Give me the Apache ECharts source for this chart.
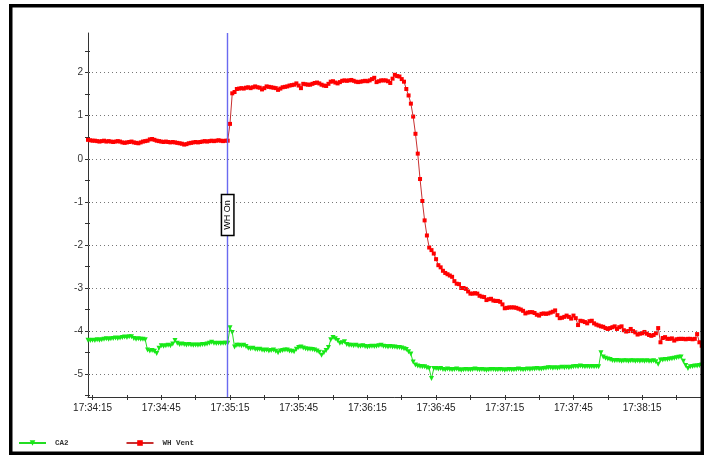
<!DOCTYPE html>
<html><head><meta charset="utf-8">
<script src="https://cdn.jsdelivr.net/npm/echarts@6/dist/echarts.min.js"></script>
<style>html,body{margin:0;padding:0;background:#fff}#c{width:705px;height:455px}</style>
</head><body><div id="c"></div><script>
// ---- data ----
const startTime = '17:34:13';   // first sample, one sample per second
const xLabels = ['17:34:15','17:34:45','17:35:15','17:35:45','17:36:15','17:36:45','17:37:15','17:37:45','17:38:15'];
const xTicks = ['17:34:15','17:34:30','17:34:45','17:35:00','17:35:15','17:35:30','17:35:45','17:36:00','17:36:15','17:36:30','17:36:45','17:37:00','17:37:15','17:37:30','17:37:45','17:38:00','17:38:15','17:38:30'];
const yLabels = [-5,-4,-3,-2,-1,0,1,2];
const yTicks = [-5.5,-5,-4.5,-4,-3.5,-3,-2.5,-2,-1.5,-1,-0.5,0,0.5,1,1.5,2,2.5];
const yMin = -5.53, yMax = 2.92;
const markerTime = '17:35:14';
const markerText = 'WH On';
const seriesNames = ['CA2','WH Vent'];

const ca2 = [
-4.21,-4.22,-4.21,-4.22,-4.20,-4.21,-4.20,-4.19,-4.18,-4.19,
-4.18,-4.17,-4.16,-4.17,-4.16,-4.15,-4.14,-4.15,-4.13,-4.13,
-4.17,-4.19,-4.18,-4.19,-4.19,-4.20,-4.44,-4.46,-4.45,-4.47,
-4.52,-4.40,-4.34,-4.35,-4.34,-4.33,-4.34,-4.30,-4.22,-4.28,
-4.31,-4.30,-4.31,-4.32,-4.31,-4.32,-4.33,-4.32,-4.33,-4.32,
-4.31,-4.31,-4.30,-4.28,-4.26,-4.28,-4.29,-4.28,-4.29,-4.28,
-4.28,-4.28,-3.92,-4.03,-4.37,-4.33,-4.33,-4.34,-4.33,-4.36,
-4.40,-4.41,-4.40,-4.42,-4.43,-4.42,-4.44,-4.45,-4.44,-4.46,
-4.45,-4.44,-4.47,-4.50,-4.46,-4.45,-4.44,-4.44,-4.46,-4.47,
-4.48,-4.42,-4.38,-4.37,-4.39,-4.41,-4.42,-4.42,-4.43,-4.44,
-4.46,-4.49,-4.56,-4.50,-4.45,-4.38,-4.20,-4.15,-4.18,-4.22,
-4.28,-4.27,-4.25,-4.31,-4.33,-4.33,-4.34,-4.33,-4.35,-4.35,
-4.34,-4.36,-4.37,-4.36,-4.35,-4.36,-4.35,-4.34,-4.33,-4.35,
-4.36,-4.37,-4.36,-4.37,-4.37,-4.38,-4.38,-4.39,-4.41,-4.43,
-4.48,-4.53,-4.72,-4.79,-4.81,-4.82,-4.83,-4.83,-4.85,-4.87,
-5.10,-4.87,-4.87,-4.88,-4.87,-4.89,-4.90,-4.88,-4.89,-4.90,
-4.89,-4.88,-4.90,-4.91,-4.90,-4.89,-4.90,-4.90,-4.89,-4.88,
-4.89,-4.90,-4.89,-4.90,-4.91,-4.90,-4.89,-4.89,-4.90,-4.90,
-4.89,-4.90,-4.91,-4.90,-4.89,-4.90,-4.90,-4.89,-4.88,-4.89,
-4.90,-4.89,-4.88,-4.89,-4.88,-4.88,-4.87,-4.88,-4.88,-4.87,
-4.86,-4.85,-4.85,-4.86,-4.85,-4.86,-4.85,-4.84,-4.85,-4.84,
-4.85,-4.84,-4.83,-4.82,-4.83,-4.81,-4.82,-4.83,-4.82,-4.83,
-4.82,-4.83,-4.82,-4.83,-4.50,-4.60,-4.63,-4.65,-4.66,-4.68,
-4.69,-4.68,-4.69,-4.70,-4.69,-4.69,-4.70,-4.69,-4.69,-4.70,
-4.69,-4.70,-4.69,-4.70,-4.69,-4.70,-4.70,-4.69,-4.71,-4.77,
-4.67,-4.67,-4.66,-4.66,-4.65,-4.64,-4.63,-4.62,-4.61,-4.60,
-4.70,-4.80,-4.87,-4.83,-4.82,-4.81,-4.81,-4.80,-4.79
];

const whVent = [
0.44,0.43,0.42,0.42,0.41,0.40,0.41,0.42,0.40,0.41,
0.40,0.39,0.40,0.41,0.40,0.38,0.37,0.38,0.39,0.40,
0.38,0.37,0.36,0.38,0.40,0.41,0.42,0.45,0.46,0.44,
0.42,0.41,0.40,0.39,0.40,0.39,0.38,0.39,0.38,0.37,
0.36,0.35,0.33,0.34,0.36,0.37,0.38,0.39,0.38,0.39,
0.40,0.41,0.40,0.41,0.42,0.41,0.42,0.43,0.42,0.41,
0.42,0.42,0.81,1.52,1.55,1.62,1.63,1.64,1.63,1.65,
1.66,1.64,1.66,1.68,1.66,1.65,1.61,1.64,1.68,1.67,
1.66,1.65,1.64,1.60,1.63,1.66,1.67,1.68,1.70,1.71,
1.72,1.75,1.70,1.64,1.74,1.73,1.72,1.72,1.74,1.76,
1.77,1.75,1.72,1.70,1.69,1.74,1.79,1.80,1.77,1.75,
1.78,1.81,1.82,1.81,1.82,1.83,1.81,1.79,1.78,1.79,
1.80,1.81,1.80,1.82,1.85,1.88,1.78,1.80,1.82,1.82,
1.82,1.80,1.76,1.86,1.95,1.92,1.91,1.85,1.79,1.62,
1.47,1.28,0.98,0.58,0.12,-0.47,-0.98,-1.43,-1.78,-2.06,
-2.12,-2.20,-2.33,-2.47,-2.52,-2.60,-2.65,-2.68,-2.71,-2.74,
-2.84,-2.90,-2.91,-3.00,-3.00,-3.02,-3.08,-3.13,-3.13,-3.12,
-3.13,-3.18,-3.20,-3.21,-3.28,-3.26,-3.25,-3.29,-3.30,-3.30,
-3.32,-3.38,-3.47,-3.46,-3.45,-3.45,-3.45,-3.46,-3.48,-3.50,
-3.53,-3.59,-3.57,-3.56,-3.56,-3.58,-3.62,-3.64,-3.60,-3.59,
-3.60,-3.59,-3.57,-3.55,-3.52,-3.63,-3.70,-3.69,-3.67,-3.64,
-3.67,-3.71,-3.64,-3.70,-3.86,-3.76,-3.77,-3.79,-3.82,-3.77,
-3.76,-3.82,-3.85,-3.87,-3.89,-3.90,-3.93,-3.95,-3.93,-3.91,
-3.89,-3.95,-3.91,-3.89,-3.98,-4.01,-4.00,-3.95,-4.00,-4.03,
-4.08,-4.06,-4.05,-4.02,-4.06,-4.09,-4.11,-4.09,-4.05,-3.93,
-4.26,-4.16,-4.14,-4.18,-4.18,-4.17,-4.22,-4.19,-4.18,-4.18,
-4.18,-4.19,-4.18,-4.18,-4.19,-4.18,-4.07,-4.26,-4.34
];

// ---- categories (one per second) ----
function toSec(s){const p=s.split(':').map(Number);return p[0]*3600+p[1]*60+p[2];}
function pad(n){return (n<10?'0':'')+n;}
function fmt(t){return pad(Math.floor(t/3600))+':'+pad(Math.floor(t%3600/60))+':'+pad(t%60);}
const t0 = toSec(startTime);
const categories = whVent.map((_, i) => fmt(t0 + i));

const axisFont = "'Liberation Sans Narrow','Liberation Sans',Arial,sans-serif";
const tickInterval = (i, v) => xTicks.indexOf(v) >= 0;
const labelInterval = (i, v) => xLabels.indexOf(v) >= 0;
const borderRect = {
  type:'rect', silent:true, z:100,
  shape:{x:10.75, y:5.75, width:691.5, height:447.5},
  style:{fill:null, stroke:'#000', lineWidth:3.5}
};

const chart = echarts.init(document.getElementById('c'), null, {renderer:'canvas'});
chart.setOption({
  animation:false,
  backgroundColor:'#fff',
  grid:{left:88, top:33, right:3.3, bottom:58},
  legend:{
    data:seriesNames, left:18, top:439, padding:0, itemWidth:27, itemHeight:7, itemGap:57,
    textStyle:{fontFamily:"'Liberation Mono',monospace", fontSize:7.5, fontWeight:'bold', color:'#333', padding:[0,0,0,4]}
  },
  xAxis:[{
    type:'category', data:categories, boundaryGap:false,
    axisLine:{onZero:false, lineStyle:{color:'#333', width:1}},
    axisTick:{interval:tickInterval, length:3, lineStyle:{color:'#333'}},
    axisLabel:{interval:labelInterval, color:'#222', fontSize:10, fontFamily:axisFont, margin:6},
    splitLine:{show:false}
  },{
    type:'category', data:categories, boundaryGap:false, position:'bottom',
    axisLine:{show:false, onZero:false},
    axisTick:{inside:true, interval:tickInterval, length:2, lineStyle:{color:'#333'}},
    axisLabel:{show:false}, splitLine:{show:false}
  }],
  yAxis:[{
    type:'value', min:yMin, max:yMax, position:'left',
    axisLine:{show:true, lineStyle:{color:'#333', width:1}},
    axisTick:{show:true, customValues:yTicks, length:3, lineStyle:{color:'#333'}},
    axisLabel:{customValues:yLabels, color:'#333', fontSize:10, fontFamily:axisFont, margin:5},
    splitLine:{show:false}
  },{
    type:'value', min:yMin, max:yMax, position:'left',
    axisLine:{show:false},
    axisTick:{show:true, inside:true, customValues:yTicks, length:2, lineStyle:{color:'#333'}},
    axisLabel:{show:false}, splitLine:{show:false}
  }],
  series:[{
    name:'grid', type:'line', data:[], z:1, silent:true,
    markLine:{
      silent:true, symbol:'none', animation:false,
      label:{show:false},
      lineStyle:{color:'#777', type:[1,3], width:1},
      emphasis:{disabled:true},
      data:yLabels.map(v => ({yAxis:v}))
    }
  },{
    name:'CA2', type:'line', data:ca2, z:3,
    symbol:'triangle', symbolRotate:180, symbolSize:5, showAllSymbol:true,
    itemStyle:{color:'#18e818'}, lineStyle:{color:'#22dd22', width:1},
    emphasis:{disabled:true}
  },{
    name:'WH Vent', type:'line', data:whVent, z:3,
    symbol:'rect', symbolSize:4, showAllSymbol:true,
    itemStyle:{color:'#ff0000'}, lineStyle:{color:'#c83030', width:1},
    emphasis:{disabled:true},
    markLine:{
      silent:true, symbol:'none', animation:false,
      lineStyle:{color:'#6a6af0', type:'solid', width:1.4, opacity:1},
      label:{show:false},
      emphasis:{disabled:true},
      data:[{xAxis:markerTime}]
    }
  }],
  graphic:[borderRect]
});

// marker label box, placed through the axes' own scales
const mid = chart.convertToPixel({xAxisIndex:0, yAxisIndex:0}, [markerTime, (yMin + yMax) / 2]);
chart.setOption({
  graphic:[borderRect, {
    type:'text', silent:true, z:60,
    x:mid[0], y:mid[1], rotation:Math.PI / 2,
    style:{text:markerText, fill:'#000', font:"9px 'Liberation Sans', Arial, sans-serif",
      align:'center', verticalAlign:'middle',
      backgroundColor:'#fff', borderColor:'#000', borderWidth:1.5, padding:[1,5]}
  }]
});
</script></body></html>
